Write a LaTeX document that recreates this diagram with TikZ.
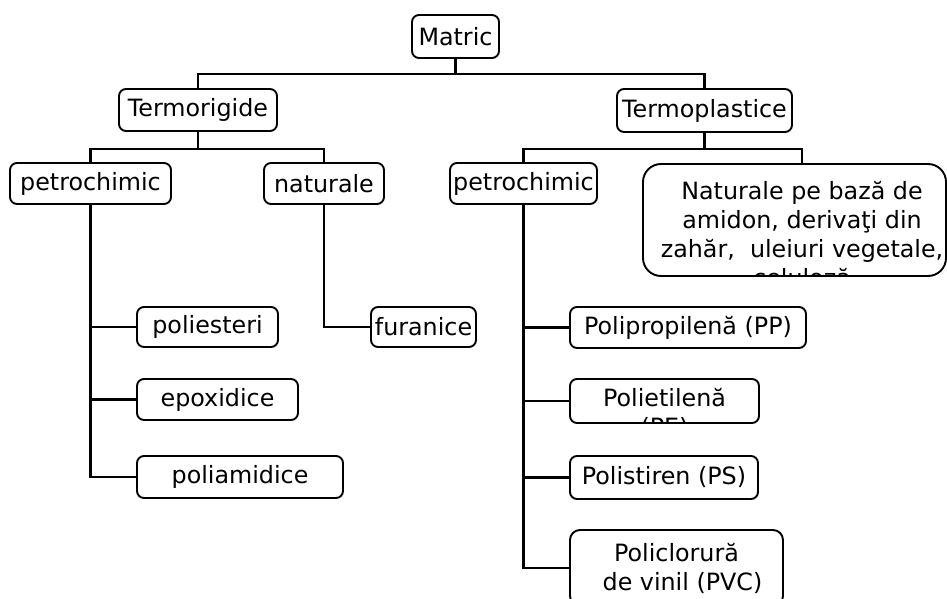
\documentclass[tikz,border=0pt]{standalone}
\usepackage{fontspec}
\setmainfont{DejaVu Sans}

\begin{document}
\begin{tikzpicture}[x=1pt, y=-1pt, font=\fontsize{23.8}{29}\selectfont,
  b/.style={draw, rounded corners=7pt, inner sep=0pt, align=center, line width=1.9pt},
  ln/.style={line width=2.3pt}]
\useasboundingbox (0,0) rectangle (947,599);
\clip (0,0) rectangle (947,599);
% top levels
\node[b, minimum width=87pt, minimum height=43pt] (matric) at (455.5,36.5) {Matric};
\node[b, minimum width=158pt, minimum height=42pt] (termorig) at (198,110) {Termorigide};
\node[b, minimum width=175pt, minimum height=43pt] (termoplast) at (704.5,110.5) {Termoplastice};
\node[b, minimum width=161pt, minimum height=41pt] (petroL) at (90.5,183.5) {petrochimic};
\node[b, minimum width=120pt, minimum height=41pt] (natL) at (324,183.5) {naturale};
\node[b, minimum width=147pt, minimum height=41pt] (petroR) at (523.5,183.5) {petrochimic};
\node[b, rounded corners=18pt, minimum width=303pt, minimum height=112pt, path picture={
  \node[align=center, inner sep=0pt, anchor=north] (naturtext) at ([xshift=7.5pt, yshift=-13pt]path picture bounding box.north)
    {Naturale pe bază de\\amidon, derivaţi din\\zahăr,\ \ uleiuri vegetale,\\celuloză};}] (naturR) at (794.5,220) {};
% leaves
\node[b, minimum width=141pt, minimum height=40pt] (poliest) at (207.5,327) {poliesteri};
\node[b, minimum width=161pt, minimum height=41pt] (epox) at (217.5,399.5) {epoxidice};
\node[b, minimum width=206pt, minimum height=42pt] (poliam) at (240,477) {poliamidice};
\node[b, minimum width=105pt, minimum height=40pt] (furan) at (423.5,327) {furanice};
\node[b, minimum width=236pt, minimum height=41pt] (pp) at (688,327.5) {Polipropilenă (PP)};
\node[b, minimum width=189pt, minimum height=44pt, path picture={
  \node[align=center, inner sep=0pt, anchor=north] (petext) at ([yshift=-8pt]path picture bounding box.north)
    {Polietilenă\\(PE)};}] (pe) at (664.5,401) {};
\node[b, minimum width=188pt, minimum height=43pt] (ps) at (664,477.5) {Polistiren (PS)};
\node[b, rounded corners=10pt, minimum width=213pt, minimum height=76pt] (pvc) at (676.5,568) {Policlorură\\\hspace*{12pt}de vinil (PVC)};
% connectors
\draw[ln] (matric.south) -- ++(0,15) coordinate (j0);
\draw[ln] (termorig.north) |- (j0) -| (termoplast.north);
\draw[ln] (termorig.south) -- ++(0,17) coordinate (j1);
\draw[ln] (petroL.north) |- (j1) -| (natL.north);
\draw[ln] (termoplast.south) -- ++(0,16) coordinate (j2);
\draw[ln] (petroR.north) |- (j2) -| ([xshift=7.5pt]naturR.north);
\draw[ln] (petroL.south) |- (poliam.west);
\foreach \n in {poliest,epox} \draw[ln] (\n.west) -- (\n.west -| petroL.south);
\draw[ln] (natL.south) |- (furan.west);
\draw[ln] (petroR.south) |- (pvc.west);
\foreach \n in {pp,pe,ps} \draw[ln] (\n.west) -- (\n.west -| petroR.south);
\end{tikzpicture}
\end{document}
